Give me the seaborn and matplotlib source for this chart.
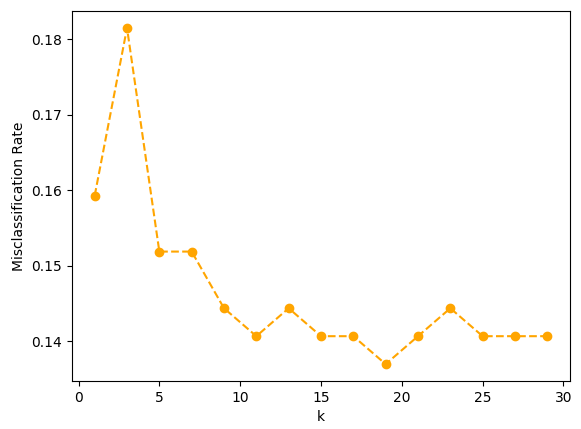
import pandas as pd
import seaborn as sns
from matplotlib import pyplot as plt

# k values and misclassification rates
k_values = [1, 3, 5, 7, 9, 11, 13, 15, 17, 19, 21, 23, 25, 27, 29]
error_rates = [0.1593, 0.1815, 0.1519, 0.1519, 0.1444, 0.1407, 0.1444, 0.1407,
               0.1407, 0.1370, 0.1407, 0.1444, 0.1407, 0.1407, 0.1407]

df = pd.DataFrame({'k': k_values, 'rate': error_rates})

fig = plt.figure(figsize=(5.81, 4.29), dpi=100)
ax = fig.add_axes([0.124, 0.112, 0.857, 0.862])

sns.lineplot(data=df, x='k', y='rate', ax=ax, color='orange', linestyle='--',
             marker='o', markersize=6, markeredgecolor='orange',
             markeredgewidth=1, linewidth=1.5)

ax.set_xlabel('k')
ax.set_ylabel('Misclassification Rate')
ax.set_xticks([0, 5, 10, 15, 20, 25, 30])
ax.set_yticks([0.14, 0.15, 0.16, 0.17, 0.18])

fig.savefig('out.png', dpi=100)
